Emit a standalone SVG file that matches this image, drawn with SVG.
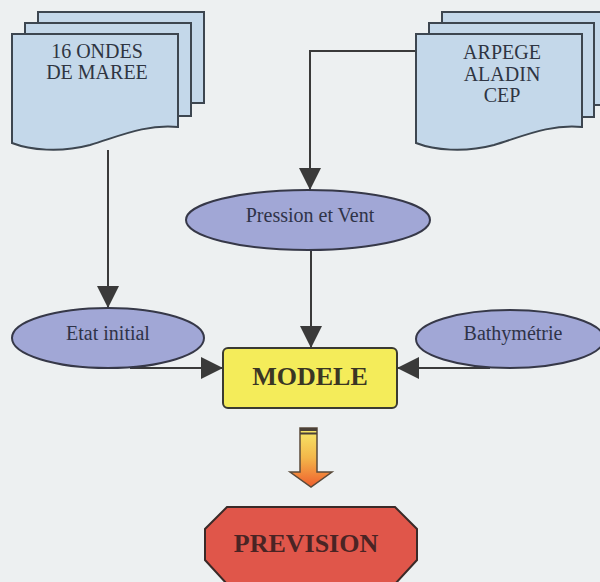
<svg xmlns="http://www.w3.org/2000/svg" width="600" height="582" viewBox="0 0 600 582">
  <defs>
    <style>
      .sheet { fill: #c4d8ea; stroke: #3d4650; stroke-width: 2; }
      .doctext { font-family: "Liberation Serif", serif; font-size: 20px; fill: #2f3542; text-anchor: middle; }
      .ell { fill: #a1a7d6; stroke: #363848; stroke-width: 2; }
      .elltext { font-family: "Liberation Serif", serif; font-size: 20px; fill: #2f3348; text-anchor: middle; }
      .conn { fill: none; stroke: #3a3a3a; stroke-width: 2; }
      .big { font-family: "Liberation Serif", serif; font-size: 26px; font-weight: bold; text-anchor: middle; }
    </style>
    <marker id="ah" viewBox="0 0 22 22" refX="22" refY="11" markerWidth="22" markerHeight="22" markerUnits="userSpaceOnUse" orient="auto">
      <path d="M0,0 L22,11 L0,22 Z" fill="#3a3a3a"/>
    </marker>
    <linearGradient id="grad" x1="0" y1="0" x2="0" y2="1">
      <stop offset="0" stop-color="#f6ea6a"/>
      <stop offset="0.5" stop-color="#f4b74a"/>
      <stop offset="1" stop-color="#ee5f2e"/>
    </linearGradient>
  </defs>

  <rect x="0" y="0" width="600" height="582" fill="#edf0f1"/>

  <g id="connectors">
    <path class="conn" d="M108,150 V308" marker-end="url(#ah)"/>
    <path class="conn" d="M416,51 H310 V190" marker-end="url(#ah)"/>
    <path class="conn" d="M311,250 V348" marker-end="url(#ah)"/>
    <path class="conn" d="M130,368 H223" marker-end="url(#ah)"/>
    <path class="conn" d="M490,368 H397" marker-end="url(#ah)"/>
    <g id="flow-arrow">
      <polygon points="300,428 317,428 317,472 332,472 311,487 290,472 300,472" fill="url(#grad)" stroke="#5a4a3a" stroke-width="1.5"/>
      <rect x="300" y="428" width="17" height="3" fill="#4a4038"/>
      <rect x="300" y="432.5" width="17" height="2" fill="#4a4038"/>
    </g>
  </g>

  <g id="ondes">
    <rect class="sheet" x="38" y="12" width="166" height="91"/>
    <rect class="sheet" x="25" y="23" width="166" height="93"/>
    <path class="sheet" d="M12,34 H178 V127 C145,124 120,136 90,145 C60,153 30,150 12,143 Z"/>
    <text class="doctext" x="97" y="58">16 ONDES</text>
    <text class="doctext" x="97" y="79">DE MAREE</text>
  </g>

  <g id="arpege">
    <rect class="sheet" x="442" y="12" width="166" height="93"/>
    <rect class="sheet" x="429" y="23" width="165" height="94"/>
    <path class="sheet" d="M416,34 H582 V127 C549,124 524,136 494,145 C464,153 434,150 416,143 Z"/>
    <text class="doctext" x="502" y="59">ARPEGE</text>
    <text class="doctext" x="502" y="81">ALADIN</text>
    <text class="doctext" x="502" y="102">CEP</text>
  </g>

  <g id="pression">
    <ellipse class="ell" cx="308" cy="220" rx="122" ry="30"/>
    <text class="elltext" x="310" y="222">Pression et Vent</text>
  </g>

  <g id="etat">
    <ellipse class="ell" cx="108" cy="338" rx="96" ry="30"/>
    <text class="elltext" x="108" y="340">Etat initial</text>
  </g>

  <g id="bathy">
    <ellipse class="ell" cx="510" cy="339" rx="94" ry="29"/>
    <text class="elltext" x="513" y="340">Bathymétrie</text>
  </g>

  <g id="modele">
    <rect x="223" y="348" width="174" height="60" rx="5" fill="#f4ec5a" stroke="#3a3a32" stroke-width="2"/>
    <text class="big" x="310" y="385" fill="#3a3624">MODELE</text>
  </g>

  <g id="prevision">
    <polygon points="227,507 395,507 417,529 417,560 395,584 227,584 205,560 205,529" fill="#e0564a" stroke="#3a2a28" stroke-width="2"/>
    <text class="big" x="306" y="552" fill="#4a2424">PREVISION</text>
  </g>
</svg>
